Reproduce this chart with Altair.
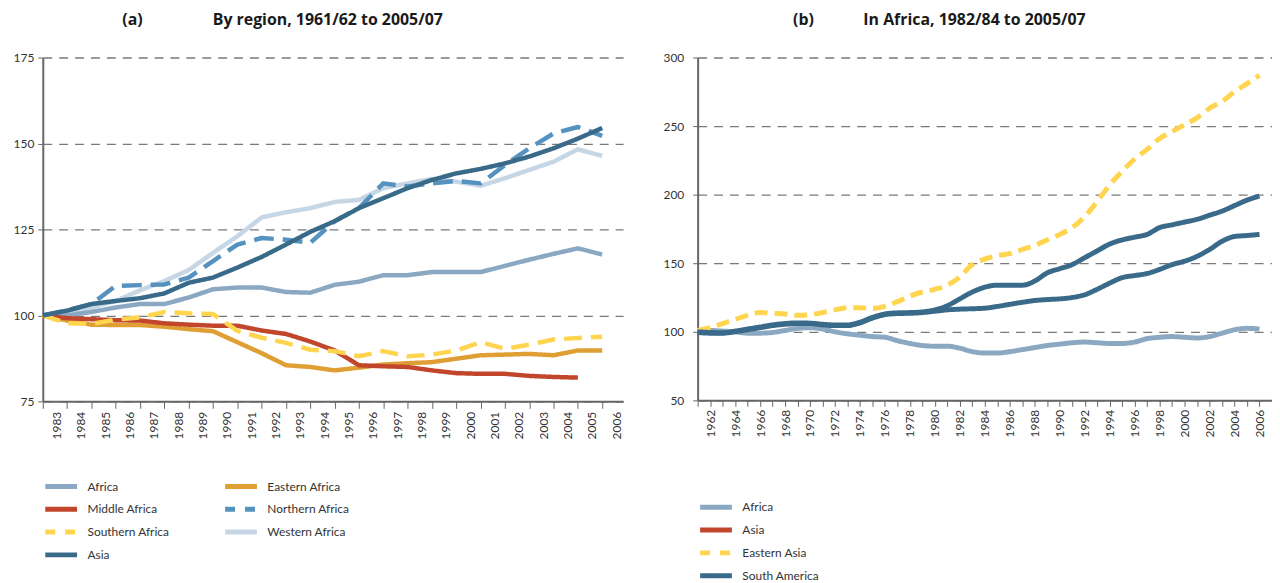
import altair as alt
import pandas as pd

FONT = "Lato"
TITLE_FONT = "Open Sans"

# ---------------- Panel (a) data ----------------
years_a = list(range(1983, 2007))
africa_a = [100, 100, 101, 102.3, 103.3, 103.3, 105.2, 107.6, 108.1, 108.1, 106.8, 106.6,
            108.9, 109.8, 111.7, 111.7, 112.6, 112.6, 112.6, 114.4, 116.2, 117.9, 119.5, 117.7]
eastern_africa = [100, 98.5, 97.3, 97.2, 97.2, 96.7, 96, 95.4, 92.2, 89, 85.5, 85, 84.0, 84.8,
                  85.7, 86.1, 86.4, 87.4, 88.4, 88.6, 88.8, 88.4, 89.8, 89.8]
middle_africa = [100, 99.2, 98.9, 98.6, 98.5, 97.7, 97.3, 97, 97, 95.6, 94.6, 92.4, 89.8, 85.5,
                 85.2, 85, 84, 83.2, 83, 83, 82.4, 82.1, 81.9]  # ends 2005
northern_africa = [100, 101.4, 103.3, 108.6, 108.8, 109, 111, 115.8, 120.6, 122.5, 122, 121.1,
                   127.4, 131.2, 138.4, 137.5, 138.4, 139.1, 138.4, 143.7, 148.6, 152.9, 154.8, 152.2]
southern_africa = [100, 97.7, 97.5, 98.8, 99.4, 101, 100.6, 100.4, 95.5, 93.5, 92, 90, 89.6, 88.1,
                   89.6, 88.1, 88.6, 89.8, 92.2, 90.3, 91.5, 93, 93.4, 93.8]
western_africa = [100, 100.4, 102.3, 104.2, 107.3, 110, 113.2, 118.2, 123, 128.5, 130, 131.2,
                  133, 133.6, 137, 138.4, 139.7, 138.9, 137.7, 139.9, 142.3, 144.7, 148.3, 146.4]
asia_a = [100, 101.4, 103.3, 104.2, 105, 106.4, 109.5, 111, 113.9, 117, 120.6, 124.3, 127.4,
          131.2, 134.1, 137, 139.4, 141.3, 142.6, 144.2, 146.2, 148.6, 151.4, 154.5]

# legend order (column-major, two columns)
series_a = ["Africa", "Middle Africa", "Southern Africa", "Asia",
            "Eastern Africa", "Northern Africa", "Western Africa"]
colors_a = ["#8ba8c2", "#c1462b", "#ffd54f", "#3a6a89", "#e09f34", "#5592c0", "#c6d6e5"]
dash_lines_a = [[1, 0], [1, 0], [18, 9], [1, 0], [1, 0], [20, 9], [1, 0]]
dash_legend_a = [[1, 0], [1, 0], [10, 10], [1, 0], [1, 0], [10, 10], [1, 0]]

# drawing order (back to front)
draw_a = [("Western Africa", western_africa), ("Africa", africa_a),
          ("Eastern Africa", eastern_africa), ("Middle Africa", middle_africa),
          ("Southern Africa", southern_africa), ("Northern Africa", northern_africa),
          ("Asia", asia_a)]
rows = []
for name, vals in draw_a:
    for y, v in zip(years_a, vals):
        rows.append({"series": name, "year": y, "value": v})
df_a = pd.DataFrame(rows)

# ---------------- Panel (b) data ----------------
years_b = list(range(1961, 2007))
africa_b = [101, 101, 100.5, 100, 99, 99, 99.5, 101, 102.5, 103,
            102, 100, 98.5, 97.5, 96.5, 96, 93.5, 91.5, 90, 89.5,
            89.5, 88, 85.5, 84.5, 84.5, 85.5, 87, 88.5, 90, 91,
            92, 92.5, 92, 91.5, 91.5, 92.5, 95, 96, 96.5, 96,
            95.5, 96.5, 99, 101.5, 102.5, 102]
asia_b = [100, 99.5, 99.3, 100.5, 102, 103.5, 105, 106, 106.5, 106.3,
          105.5, 105, 105, 107, 110.5, 113, 113.8, 114, 114.5, 116,
          119, 124, 129, 132.5, 134, 134, 134, 137, 143, 146,
          149, 154, 159, 164, 167, 169, 171, 176, 178, 180,
          182, 185, 188, 192, 196, 199]
eastern_asia = [101, 103, 106, 109, 112, 114, 113.5, 113, 112, 112.5,
                114, 116, 117.5, 117.5, 117, 118.5, 122, 126, 129, 131,
                134, 140, 149, 153, 155.5, 157, 160, 163, 167, 171,
                176, 184, 195, 207, 217, 226, 233, 241, 246, 251,
                256, 263, 268, 275, 281, 287]
south_america = [99.5, 99, 99, 100, 101.5, 103, 104.5, 105.5, 106, 106,
                 105, 104.5, 104.5, 106.5, 110, 112.5, 113.3, 113.5, 114, 115,
                 116, 116.5, 116.8, 117.2, 118.5, 120, 121.5, 122.8, 123.5, 124,
                 125, 127, 131, 135.5, 139.5, 141, 142.5, 145.5, 149, 151.5,
                 155, 160, 166, 169.5, 170.2, 171]

series_b = ["Africa", "Asia", "Eastern Asia", "South America"]
colors_b_lines = ["#8ba8c2", "#3a6a89", "#ffd54f", "#3a6a89"]
colors_b_legend = ["#8ba8c2", "#c1462b", "#ffd54f", "#3a6a89"]
dash_lines_b = [[1, 0], [1, 0], [13, 7], [1, 0]]
dash_legend_b = [[1, 0], [1, 0], [10, 10], [1, 0]]

draw_b = [("Africa", africa_b), ("Eastern Asia", eastern_asia),
          ("South America", south_america), ("Asia", asia_b)]
rows = []
for name, vals in draw_b:
    for y, v in zip(years_b, vals):
        rows.append({"series": name, "year": y, "value": v})
df_b = pd.DataFrame(rows)

# ---------------- shared styling ----------------
GRID = dict(grid=True, gridDash=[9, 7], gridColor="#7a7a7a", gridWidth=1.3)
AXIS_COMMON = dict(title=None, domainColor="#666666", domainWidth=2, tickColor="#666666",
                   labelColor="#333333", labelFontSize=12, labelFont=FONT)

# a 32px long horizontal swatch drawn by a custom symbol path (unit scaled by sqrt(size)/2)
SWATCH = "M-4,0H4"


def legend(columns, lx, ly, col_pad=10):
    return alt.Legend(title=None, orient="none", legendX=lx, legendY=ly, direction="vertical",
                      columns=columns, columnPadding=col_pad, symbolType=SWATCH,
                      symbolSize=64, symbolStrokeWidth=5, labelOffset=20,
                      labelFontSize=12, labelColor="#333333", labelFont=FONT,
                      rowPadding=2)


# ---------------- Panel (a) ----------------
xa = alt.X("year:Q", scale=alt.Scale(domain=[1983, 2006.86], nice=False, zero=False),
           axis=alt.Axis(values=years_a, format="d", labelAngle=-90, tickSize=7,
                         labelOffset=14, labelPadding=3, grid=False, **AXIS_COMMON))
ya = alt.Y("value:Q", scale=alt.Scale(domain=[75, 175], nice=False, zero=False),
           axis=alt.Axis(values=[75, 100, 125, 150, 175], tickSize=5, labelPadding=4,
                         minExtent=30, maxExtent=30, **GRID, **AXIS_COMMON))

lines_a = alt.Chart(df_a).mark_line(strokeWidth=4.5, strokeCap="butt", strokeJoin="round").encode(
    x=xa, y=ya,
    color=alt.Color("series:N", scale=alt.Scale(domain=series_a, range=colors_a), legend=None),
    strokeDash=alt.StrokeDash("series:N", scale=alt.Scale(domain=series_a, range=dash_lines_a),
                              legend=None),
)
leg_a = alt.Chart(df_a).transform_filter("false").mark_line(strokeWidth=5).encode(
    x=xa, y=ya,
    color=alt.Color("series:N", scale=alt.Scale(domain=series_a, range=colors_a),
                    legend=legend(2, 12, 425, 45)),
    strokeDash=alt.StrokeDash("series:N", scale=alt.Scale(domain=series_a, range=dash_legend_a),
                              legend=legend(2, 12, 425, 45)),
)
title_a = alt.TitleParams(text="(a)" + "\u00a0" * 17 + "By region, 1961/62 to 2005/07",
                          anchor="start", frame="group", dx=80, fontSize=16, font=TITLE_FONT,
                          fontWeight="bold", color="#1a1a1a", offset=24)
panel_a = alt.layer(lines_a, leg_a).resolve_scale(
    color="independent", strokeDash="independent").properties(
    width=584, height=346, title=title_a)

# ---------------- Panel (b) ----------------
xb = alt.X("year:Q", scale=alt.Scale(domain=[1961, 2007], nice=False, zero=False),
           axis=alt.Axis(values=years_b, format="d", labelAngle=-90, tickSize=6,
                         labelPadding=3, grid=False,
                         labelExpr="datum.value % 2 == 0 ? datum.label : ''", **AXIS_COMMON))
yb = alt.Y("value:Q", scale=alt.Scale(domain=[50, 300], nice=False, zero=False),
           axis=alt.Axis(values=[50, 100, 150, 200, 250, 300], tickSize=5, labelPadding=9,
                         minExtent=34, maxExtent=34, **GRID, **AXIS_COMMON))

lines_b = alt.Chart(df_b).mark_line(strokeWidth=5, strokeCap="butt", strokeJoin="round",
                                    interpolate="monotone").encode(
    x=xb, y=yb,
    color=alt.Color("series:N", scale=alt.Scale(domain=series_b, range=colors_b_lines),
                    legend=None),
    strokeDash=alt.StrokeDash("series:N", scale=alt.Scale(domain=series_b, range=dash_lines_b),
                              legend=None),
)
leg_b = alt.Chart(df_b).transform_filter("false").mark_line(strokeWidth=5).encode(
    x=xb, y=yb,
    color=alt.Color("series:N", scale=alt.Scale(domain=series_b, range=colors_b_legend),
                    legend=legend(1, 12, 446)),
    strokeDash=alt.StrokeDash("series:N", scale=alt.Scale(domain=series_b, range=dash_legend_b),
                              legend=legend(1, 12, 446)),
)
title_b = alt.TitleParams(text="(b)" + "\u00a0" * 12 + "In Africa, 1982/84 to 2005/07",
                          anchor="start", frame="group", dx=96, fontSize=16, font=TITLE_FONT,
                          fontWeight="bold", color="#1a1a1a", offset=24)
panel_b = alt.layer(lines_b, leg_b).resolve_scale(
    color="independent", strokeDash="independent").properties(
    width=578, height=345, title=title_b)

chart = alt.hconcat(panel_a, panel_b, spacing=40).properties(
    padding={"left": 5, "top": 2, "right": 0, "bottom": 0}
).configure(font=FONT).configure_view(stroke=None)

chart.save("out.html", embed_options={"renderer": "svg", "actions": False})
